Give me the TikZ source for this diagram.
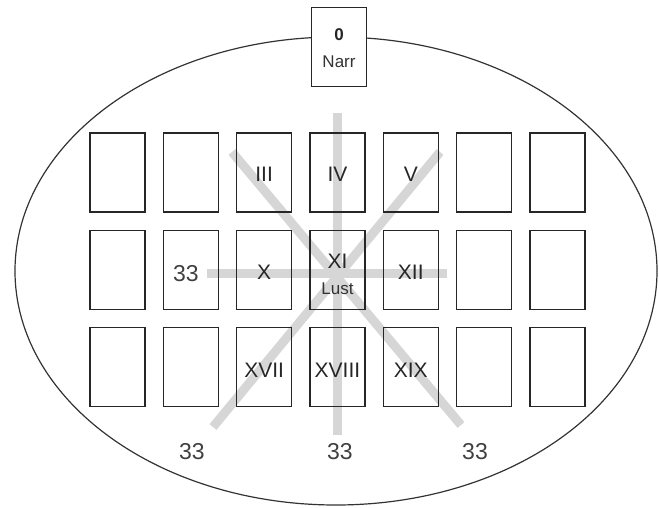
\documentclass[tikz,border=0pt]{standalone}
\usepackage{fontspec}
\setmainfont{Liberation Sans}
\begin{document}
\begin{tikzpicture}[x=1pt, y=-1pt,
	card/.style = {draw = black!85, line width = 1.6pt, minimum width = 55pt, minimum height = 79pt, inner sep = 0pt},
	ray/.style = {draw = black!16, line width = 9pt},
	numeral/.style = {font = \fontsize{21}{21}\selectfont, text = black!85, inner sep = 0pt},
	count/.style = {font = \fontsize{23}{23}\selectfont, text = black!75, inner sep = 0pt}]
	\useasboundingbox (0,0) rectangle (659,507);
	% the circle of the cards
	\draw [line width = 1.2pt, black!80] (336,271) ellipse (321 and 234);
	% grey star behind the middle
	\draw [ray] (337,113) -- (337,435);
	\draw [ray] (207,273) -- (447,273);
	\draw [ray] (232,152) -- (461,425);
	\draw [ray] (440,152) -- (213,427);
	% three rows of seven
	\foreach \r in {0,1,2}
		\foreach \c in {0,...,6}
			\node [card] (card-\r-\c) at ({117.5+73.33*\c}, {172.5+97.3*\r}) {};
	\node [card, fill = white] (fool) at (339,47) {};
	\node [font = \bfseries\fontsize{17}{17}\selectfont, text = black!85] at ([yshift = 12pt] fool) {0};
	\node [font = \fontsize{17}{17}\selectfont, text = black!80] at ([yshift = -15pt] fool) {Narr};
	% the named trumps
	\node [numeral] at ([yshift = -2pt] card-0-2) {III};
	\node [numeral] at ([yshift = -2pt] card-0-3) {IV};
	\node [numeral] at ([yshift = -2pt] card-0-4) {V};
	\node [numeral] at ([yshift = -2pt] card-1-2) {X};
	\node [numeral] at ([yshift = 9pt] card-1-3) {XI};
	\node [font = \fontsize{17}{17}\selectfont, text = black!80, inner sep = 0pt] at ([yshift = -19pt] card-1-3) {Lust};
	\node [numeral] at ([yshift = -2pt] card-1-4) {XII};
	\node [numeral] at ([yshift = -3pt] card-2-2) {XVII};
	\node [numeral] at ([yshift = -3pt] card-2-3) {XVIII};
	\node [numeral] at ([yshift = -3pt] card-2-4) {XIX};
	% the counts
	\node [count] at (186,274) {33};
	\node [count] at (192,452) {33};
	\node [count] at (340,452) {33};
	\node [count] at (475,452) {33};
\end{tikzpicture}
\end{document}
